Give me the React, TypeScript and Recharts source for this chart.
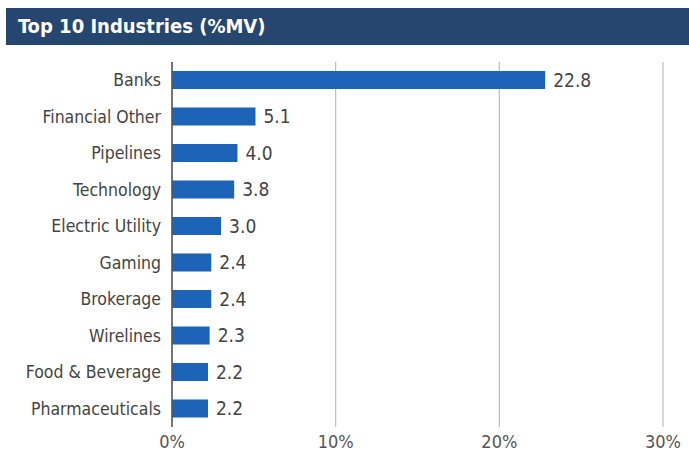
import { BarChart, Bar, XAxis, YAxis, CartesianGrid, LabelList } from "recharts";

const industries = [
  "Banks",
  "Financial Other",
  "Pipelines",
  "Technology",
  "Electric Utility",
  "Gaming",
  "Brokerage",
  "Wirelines",
  "Food & Beverage",
  "Pharmaceuticals",
];
const weights = [22.8, 5.1, 4.0, 3.8, 3.0, 2.4, 2.4, 2.3, 2.2, 2.2];
const xTicks = [0, 10, 20, 30];

const data = industries.map((name, i) => ({ name, mv: weights[i] }));

const FONT = '"DejaVu Sans Condensed", "Liberation Sans Narrow", sans-serif';

export default function App() {
  return (
    <div
      style={{
        position: "absolute",
        left: 0,
        top: 0,
        width: 689,
        height: 455,
        background: "#fff",
        fontFamily: FONT,
      }}
    >
      <div
        style={{
          position: "absolute",
          left: 6,
          top: 8,
          width: 683,
          height: 37,
          background: "#24466f",
          color: "#fff",
          fontWeight: 700,
          fontSize: 20,
          lineHeight: "37px",
          paddingLeft: 12,
          boxSizing: "border-box",
        }}
      >
        Top 10 Industries (%MV)
      </div>
      <BarChart
        width={689}
        height={455}
        data={data}
        layout="vertical"
        margin={{ top: 62, right: 26, bottom: 0, left: 0 }}
        barSize={18}
        style={{ position: "absolute", left: 0, top: 0 }}
      >
        <CartesianGrid horizontal={false} stroke="#bdbdbd" strokeWidth={1.2} />
        <XAxis
          type="number"
          domain={[0, 30]}
          ticks={xTicks}
          tickFormatter={(v) => `${v}%`}
          axisLine={false}
          tickLine={false}
          height={28}
          tick={{ fill: "#555", fontSize: 18, fontFamily: FONT }}
        />
        <YAxis
          type="category"
          dataKey="name"
          width={172}
          axisLine={{ stroke: "#555", strokeWidth: 1.5 }}
          tickLine={false}
          tickMargin={5}
          interval={0}
          tick={{ fill: "#444", fontSize: 17.5, fontFamily: FONT }}
        />
        <Bar dataKey="mv" fill="#1d63b8" isAnimationActive={false}>
          <LabelList
            dataKey="mv"
            position="right"
            offset={8}
            formatter={(v: number) => v.toFixed(1)}
            style={{ fill: "#444", fontSize: 19, fontFamily: FONT }}
          />
        </Bar>
      </BarChart>
    </div>
  );
}
